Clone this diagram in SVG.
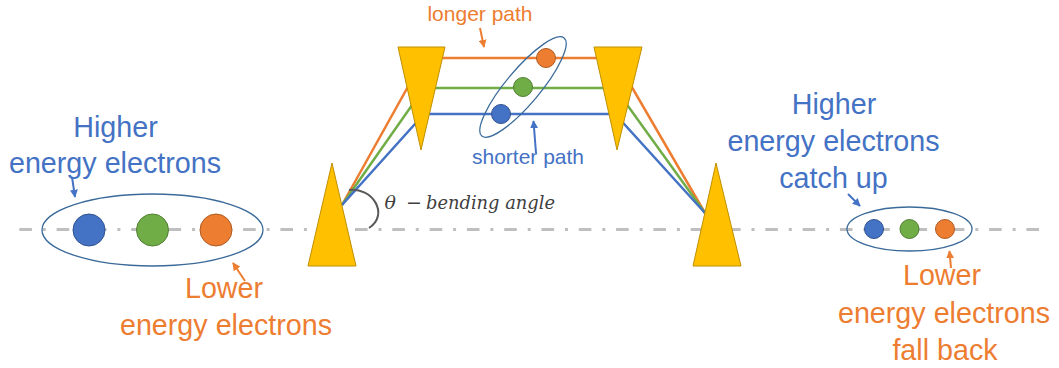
<svg xmlns="http://www.w3.org/2000/svg" width="1059" height="368" viewBox="0 0 1059 368">
<style>
.prism{fill:#ffc000;stroke:#bf9000;stroke-width:1}
.beam{fill:none;stroke-width:2.5;stroke-linejoin:miter}
.bo{stroke:#ed7d31}.bg{stroke:#70ad47}.bb{stroke:#4472c4}
.bunch{fill:none;stroke:#3a6a9a;stroke-width:1.3}
.eb{fill:#4472c4;stroke:#2f528f;stroke-width:1}
.eg{fill:#70ad47;stroke:#507e32;stroke-width:1}
.eo{fill:#ed7d31;stroke:#ae5a21;stroke-width:1}
.big{font-family:"Liberation Sans",Arial,sans-serif;font-size:28.7px;text-anchor:middle}
.small{font-family:"Liberation Sans",Arial,sans-serif;font-size:21px;text-anchor:middle}
.tb{fill:#4472c4}.to{fill:#ed7d31}
.math{font-family:"DejaVu Serif",serif;font-size:19px;fill:#404040}
.arb{fill:none;stroke:#4472c4;stroke-width:2;marker-end:url(#hb)}
.aro{fill:none;stroke:#ed7d31;stroke-width:2;marker-end:url(#ho)}
</style>
<defs>
<marker id="hb" viewBox="0 0 10 10" refX="9" refY="5" markerWidth="8" markerHeight="8" markerUnits="userSpaceOnUse" orient="auto"><path d="M0,0 L10,5 L0,10 Z" fill="#4472c4"/></marker>
<marker id="ho" viewBox="0 0 10 10" refX="9" refY="5" markerWidth="8" markerHeight="8" markerUnits="userSpaceOnUse" orient="auto"><path d="M0,0 L10,5 L0,10 Z" fill="#ed7d31"/></marker>
</defs>
<rect width="1059" height="368" fill="#ffffff"/>
<g id="axis">
<line x1="19.3" y1="229.5" x2="1040" y2="229.5" stroke="#bfbfbf" stroke-width="3.2" stroke-dasharray="12.6 10.9 3 10.8"/>
</g>
<g id="connectors">
<polyline class="beam bo" points="342,205 424,58 615,58 705,213"/>
<polyline class="beam bg" points="342,205 424,88 615,88 705,213"/>
<polyline class="beam bb" points="342,205 424,114 615,114 705,213"/>
<path d="M480,28 L484,47" class="aro"/>
<path d="M536,153 L533.5,121" class="arb"/>
<path d="M72,177 L75,197" class="arb"/>
<path d="M245,281 L233,263" class="aro"/>
<path d="M848,194 L860,206" class="arb"/>
<path d="M951,268 L949.5,251" class="aro"/>
</g>
<g id="prism1"><polygon class="prism" points="332,163 308,266 356,266"/></g>
<g id="prism2"><polygon class="prism" points="398,47 445,47 421,150"/></g>
<g id="prism3"><polygon class="prism" points="594,47 642,47 617,150"/></g>
<g id="prism4"><polygon class="prism" points="716,163 693,266 741,266"/></g>
<g id="bunch-in">
<ellipse class="bunch" cx="152.5" cy="230" rx="110.5" ry="36"/>
<circle class="eb" cx="89" cy="230" r="16"/>
<circle class="eg" cx="152.5" cy="230" r="16"/>
<circle class="eo" cx="216" cy="230" r="16"/>
</g>
<g id="bunch-mid">
<ellipse class="bunch" cx="523" cy="87" rx="64" ry="17" transform="rotate(-50 523 87)"/>
<circle class="eo" cx="546" cy="58" r="9.5"/>
<circle class="eg" cx="523" cy="87" r="9.5"/>
<circle class="eb" cx="501" cy="114" r="9.5"/>
</g>
<g id="bunch-out">
<ellipse class="bunch" cx="909.5" cy="229" rx="62.5" ry="22"/>
<circle class="eb" cx="874" cy="229" r="9.5"/>
<circle class="eg" cx="909.5" cy="229" r="9.5"/>
<circle class="eo" cx="945" cy="229" r="9.5"/>
</g>
<g id="angle">
<path d="M349,190 C372,187 390,214 369,228" fill="none" stroke="#595959" stroke-width="2"/>
<text class="math" x="384.5" y="208.5" font-style="italic">θ</text>
<text class="math" x="406" y="208.5">−</text>
<text class="math" x="426" y="208.5" font-style="italic" textLength="129" lengthAdjust="spacingAndGlyphs">bending angle</text>
</g>
<g id="label-longer"><text class="small to" x="480" y="20.5" font-size="20.8">longer path</text></g>
<g id="label-shorter"><text class="small tb" x="528" y="164">shorter path</text></g>
<g id="label-higher-in">
<text class="big tb" x="115.5" y="137">Higher</text>
<text class="big tb" x="115" y="173">energy electrons</text>
</g>
<g id="label-lower-in">
<text class="big to" x="224" y="298">Lower</text>
<text class="big to" x="226" y="335">energy electrons</text>
</g>
<g id="label-higher-out">
<text class="big tb" x="834" y="113.5">Higher</text>
<text class="big tb" x="833.5" y="150.5">energy electrons</text>
<text class="big tb" x="833.5" y="187.5">catch up</text>
</g>
<g id="label-lower-out">
<text class="big to" x="942" y="285">Lower</text>
<text class="big to" x="944" y="322.5">energy electrons</text>
<text class="big to" x="945" y="360">fall back</text>
</g>
</svg>
